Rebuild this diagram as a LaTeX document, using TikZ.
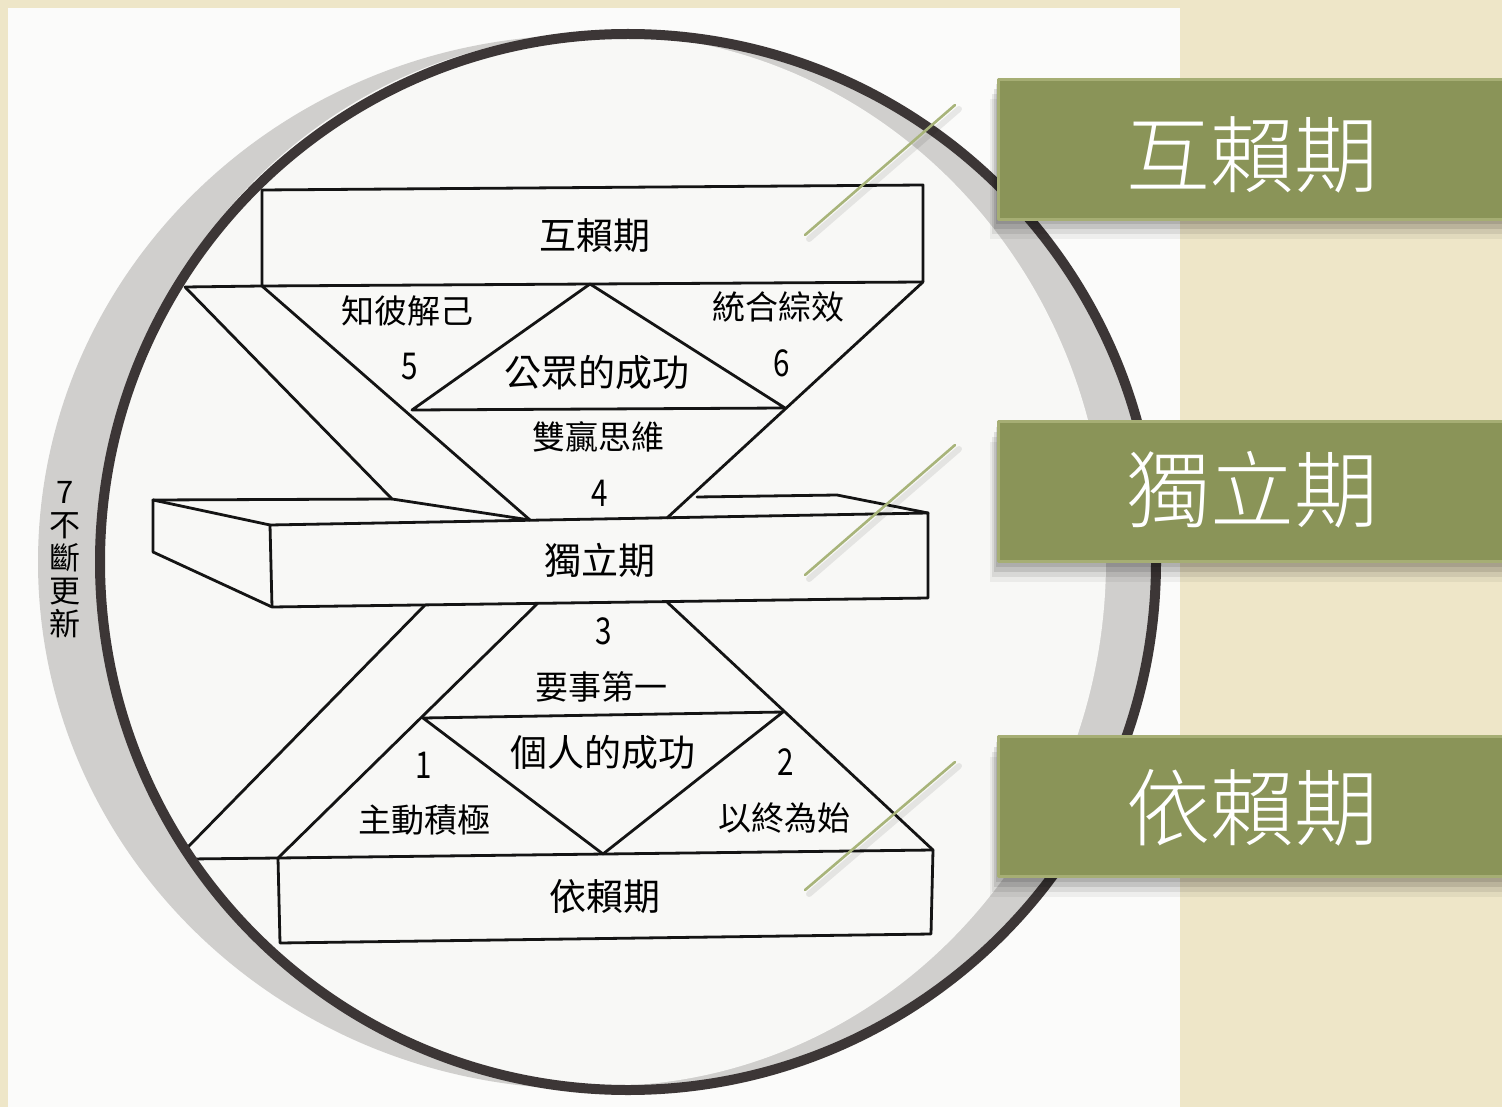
\documentclass[tikz,border=0pt]{standalone}
\usepackage{fontspec}
\newfontfamily\cjk{Noto Sans CJK TC}
\IfFontExistsTF{Noto Sans CJK TC Light}{\newfontfamily\cjkthin{Noto Sans CJK TC Light}}{\newfontfamily\cjkthin{Noto Sans CJK TC}}
\definecolor{parch}{RGB}{238,230,200}
\definecolor{paper}{RGB}{251,251,250}
\definecolor{inside}{RGB}{248,248,246}
\definecolor{ringgray}{RGB}{208,207,205}
\definecolor{ring}{RGB}{60,54,54}
\definecolor{bandgreen}{RGB}{138,148,88}
\definecolor{bandedge}{RGB}{166,174,116}
\definecolor{leadgreen}{RGB}{168,180,122}

\begin{document}
\begin{tikzpicture}[x=1pt, y=-1pt, line join=round, line cap=round,
		edge/.style={draw=black!92, line width=2.8pt},
		stage/.style={font=\cjk\fontsize{37}{37}\selectfont, inner sep=0pt},
		habit/.style={font=\cjk\fontsize{33}{33}\selectfont, inner sep=0pt},
		num/.style={font=\cjk\fontsize{37}{37}\selectfont, inner sep=0pt, xscale=.8},
		band/.style={fill=bandgreen, draw=bandedge, line width=3pt, minimum width=530pt, minimum height=140pt, anchor=north west, inner sep=0pt,
			preaction={fill=black, opacity=.10, transform canvas={xshift=-3pt, yshift=-5pt}},
			preaction={fill=black, opacity=.10, transform canvas={xshift=-5pt, yshift=-10pt}},
			preaction={fill=black, opacity=.08, transform canvas={xshift=-7pt, yshift=-15pt}},
			preaction={fill=black, opacity=.05, transform canvas={xshift=-9pt, yshift=-20pt}}},
		bandtext/.style={font=\cjkthin\fontsize{84}{84}\selectfont, text=white, inner sep=0pt},
		leader/.style={draw=leadgreen, line width=2.6pt,
			preaction={draw=black, opacity=.08, line width=6pt, transform canvas={xshift=4pt, yshift=-4pt}}}]
		\useasboundingbox (0,0) rectangle (1502,1107);
		\fill[parch] (0,0) rectangle (1502,1107);
		\fill[paper] (8,8) rectangle (1180,1107);

		% the renewal ring
		\fill[ringgray] (585,562) ellipse[x radius=547, y radius=527];
		\fill[ringgray] (628,562) ellipse[x radius=528, y radius=528];
		\fill[inside] (603,560) ellipse[x radius=503, y radius=526];

		% top stage
		\coordinate (ta) at (262,190);
		\coordinate (tb) at (923,185);
		\coordinate (tc) at (923,282);
		\coordinate (td) at (262,286);
		\coordinate (sa) at (185,287);
		\coordinate (sb) at (392,499);
		\coordinate (apx) at (590,284);
		\coordinate (wl) at (412,410);
		\coordinate (wr) at (785,408);
		% middle slab
		\coordinate (ma) at (153,500);
		\coordinate (mb) at (153,552);
		\coordinate (mc) at (270,525);
		\coordinate (md) at (272,607);
		\coordinate (me) at (928,513);
		\coordinate (mf) at (928,598);
		\coordinate (mg) at (697,497);
		\coordinate (mh) at (837,495);
		\coordinate (nl) at (530,520);
		\coordinate (nr) at (667,518);
		\coordinate (ll) at (537,604);
		\coordinate (lr) at (667,602);
		\coordinate (lo) at (425,605);
		\coordinate (le) at (187,848);
		% bottom slab
		\coordinate (pl) at (423,718);
		\coordinate (pr) at (783,712);
		\coordinate (dp) at (603,854);
		\coordinate (ba) at (278,858);
		\coordinate (bb) at (933,850);
		\coordinate (bc) at (931,934);
		\coordinate (bd) at (280,943);
		\coordinate (bx) at (190,859);

		\draw[edge] (ta) -- (tb) -- (tc) -- (td) -- cycle;
		\draw[edge] (sa) -- (td) -- (nl);
		\draw[edge] (sa) -- (sb) -- (nl);
		\draw[edge] (tc) -- (nr);
		\draw[edge] (apx) -- (wl) -- (wr) -- cycle;
		\draw[edge] (ma) -- (sb);
		\draw[edge] (ma) -- (mb) -- (md);
		\draw[edge] (ma) -- (mc);
		\draw[edge] (mc) -- (me) -- (mf) -- (md) -- cycle;
		\draw[edge] (mg) -- (mh) -- (me);
		\draw[edge] (ll) -- (ba);
		\draw[edge] (lr) -- (bb);
		\draw[edge] (lo) -- (le);
		\draw[edge] (pl) -- (pr) -- (dp) -- cycle;
		\draw[edge] (bx) -- (ba) -- (bb) -- (bc) -- (bd) -- (ba);

		\draw[ring, line width=10pt] (628,562) ellipse[x radius=528, y radius=528];

		\node[stage] (st3) at (595,236) {互賴期};
		\node[habit] (h5) at (407,311) {知彼解己};
		\node[habit] (h6) at (778,307) {統合綜效};
		\node[num] (n5) at (410,367) {5};
		\node[num] (n6) at (782,363) {6};
		\node[stage] (pub) at (597,373) {公眾的成功};
		\node[habit] (h4) at (598,437) {雙贏思維};
		\node[num] (n4) at (600,493) {4};
		\node[stage] (st2) at (600,560) {獨立期};
		\node[num] (n3) at (604,631) {3};
		\node[habit] (h3) at (601,687) {要事第一};
		\node[stage] (prv) at (603,752) {個人的成功};
		\node[num] (n1) at (424,765) {1};
		\node[num] (n2) at (786,762) {2};
		\node[habit] (h1) at (424,820) {主動積極};
		\node[habit] (h2) at (784,818) {以終為始};
		\node[stage] (st1) at (605,897) {依賴期};
		\node[font=\cjk\fontsize{31}{33}\selectfont, align=center, inner sep=0pt] (h7) at (65,560) {7\\不\\斷\\更\\新};

		% pointers to the stage labels
		\coordinate (p3) at (955,105);
		\coordinate (q3) at (805,235);
		\coordinate (p2) at (955,445);
		\coordinate (q2) at (805,575);
		\coordinate (p1) at (955,762);
		\coordinate (q1) at (805,890);
		\draw[leader] (p3) -- (q3);
		\draw[leader] (p2) -- (q2);
		\draw[leader] (p1) -- (q1);

		\node[band] (b3) at (997,78) {};
		\node[band] (b2) at (997,420) {};
		\node[band] (b1) at (997,735) {};
		\node[bandtext] (l3) at (1252,155) {互賴期};
		\node[bandtext] (l2) at (1252,490) {獨立期};
		\node[bandtext] (l1) at (1252,808) {依賴期};
	\end{tikzpicture}
\end{document}
